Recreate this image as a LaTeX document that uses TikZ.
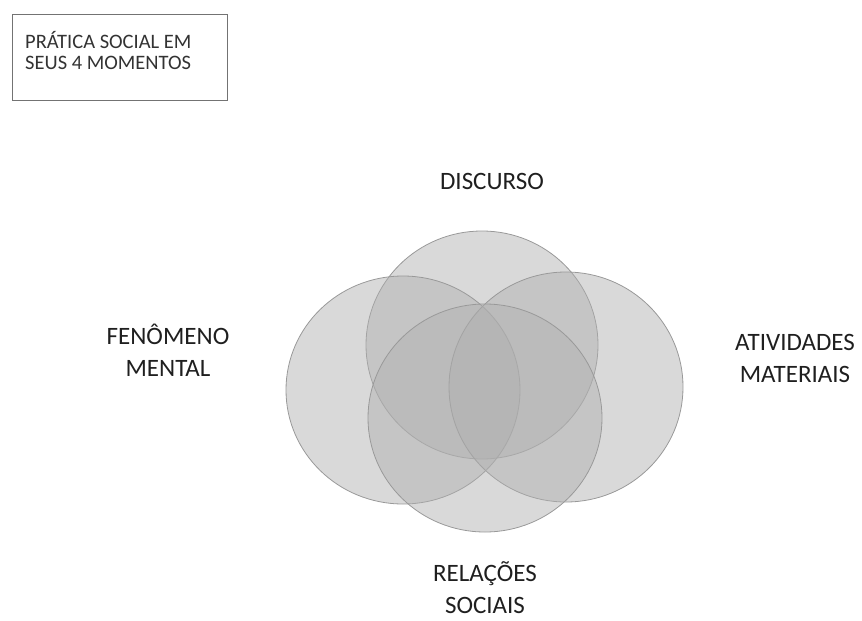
\documentclass[tikz,border=0pt]{standalone}
\usepackage{fontspec}
\setmainfont{Carlito}
\begin{document}
\begin{tikzpicture}[x=1pt,y=-1pt,
  circ/.style={draw=black!40, line width=0.8pt, fill={rgb,255:red,175;green,175;blue,175}, fill opacity=0.47},
  lbl/.style={text=black!88, align=center, font=\fontsize{25}{32}\selectfont, inner sep=0pt},
  boxlbl/.style={text=black!80, align=left, font=\fontsize{20.5}{21}\selectfont, inner sep=0pt, anchor=north west}]
\useasboundingbox (0,0) rectangle (862,621);
\draw[circ] (482,345) ellipse [x radius=116pt, y radius=114pt];
\draw[circ] (403,390) ellipse [x radius=117pt, y radius=114pt];
\draw[circ] (566,387) ellipse [x radius=117pt, y radius=115pt];
\draw[circ] (485,418) ellipse [x radius=117pt, y radius=114pt];
\node[lbl] (disc) at (492,181) {DISCURSO};
\node[lbl] (fen) at (168,350) {FENÔMENO\\MENTAL};
\node[lbl] (ativ) at (795,358) {ATIVIDADES\\MATERIAIS};
\node[lbl, text depth=0pt] (rel) at (485,588) {RELAÇÕES\\SOCIAIS};
\node[draw=black!55, line width=1.2pt, minimum width=215pt, minimum height=86pt, anchor=north west, inner sep=0pt] (box) at (12,14) {};
\node[boxlbl] (boxt) at (25,31) {PRÁTICA SOCIAL EM\\SEUS 4 MOMENTOS};
\end{tikzpicture}
\end{document}
